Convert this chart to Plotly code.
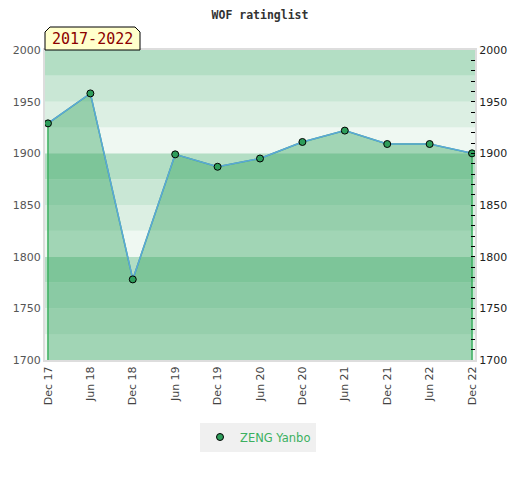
import plotly.graph_objects as go

# ---- data ----
periods = ["Dec 17", "Jun 18", "Dec 18", "Jun 19", "Dec 19", "Jun 20",
           "Dec 20", "Jun 21", "Dec 21", "Jun 22", "Dec 22"]
ratings = [1929, 1958, 1778, 1899, 1887, 1895, 1911, 1922, 1909, 1909, 1900]
player = "ZENG Yanbo"
span_label = "2017-2022"
y_min, y_max = 1700, 2000

xs = list(range(len(periods)))

OFF = 8  # page body margin
W, H = 504, 464
L, T = 45 - OFF, 50 - OFF
R = W - (475 - OFF)
B = H - (360 - OFF)
pw, ph = W - L - R, H - T - B

def px(x):  # window pixel -> paper x
    return (x - OFF - L) / pw

def py(y):  # window pixel -> paper y
    return (H - B - (y - OFF)) / ph

fig = go.Figure()

# fill area under the line
fig.add_trace(go.Scatter(
    x=[xs[0]] + xs + [xs[-1]], y=[y_min] + ratings + [y_min],
    mode="lines", fill="toself", fillcolor="rgba(46,160,90,0.40)",
    line=dict(color="#3cb060", width=1.5), hoverinfo="skip", showlegend=False))

# rating line
fig.add_trace(go.Scatter(
    x=xs, y=ratings, mode="lines", line=dict(color="#5ca6dc", width=1.5),
    showlegend=False, hoverinfo="skip"))

# markers (on right axis, same range)
fig.add_trace(go.Scatter(
    x=xs, y=ratings, mode="markers", name=player, yaxis="y2",
    marker=dict(color="#2e9e5b", size=7, line=dict(color="black", width=1))))

# background bands every 25 points
band_colors = ["#eff8f2", "#dcefe3", "#c9e7d5", "#b3dec4"]
shapes = []
v = y_min
i = 0
while v < y_max:
    shapes.append(dict(type="rect", xref="paper", yref="y", x0=0, x1=1,
                       y0=v, y1=v + 25, fillcolor=band_colors[(i % 4)],
                       line=dict(width=0), layer="below"))
    v += 25
    i += 1

# label box with cut corners
bx0, bx1, by_top, by_bot, cut = 45, 140, 27, 50, 5
path = (f"M {px(bx0)},{py(by_bot)} L {px(bx0)},{py(by_top + cut)} "
        f"L {px(bx0 + cut)},{py(by_top)} L {px(bx1 - cut)},{py(by_top)} "
        f"L {px(bx1)},{py(by_top + cut)} L {px(bx1)},{py(by_bot)} Z")
shapes.append(dict(type="path", xref="paper", yref="paper", path=path,
                   fillcolor="#ffffcc", line=dict(color="black", width=1),
                   layer="above"))

fig.update_layout(
    width=W, height=H,
    margin=dict(l=L, r=R, t=T, b=B, autoexpand=False),
    paper_bgcolor="white", plot_bgcolor="white",
    title=dict(text="<b>WOF ratinglist</b>", x=px(260), xanchor="center",
               xref="paper", y=1 - (15 - OFF) / H, yanchor="middle",
               font=dict(family="DejaVu Sans Mono", size=11.5, color="#333")),
    shapes=shapes,
    annotations=[dict(text=span_label, xref="paper", yref="paper",
                      x=px((bx0 + bx1) / 2), y=py(39), showarrow=False,
                      xanchor="center", yanchor="middle",
                      font=dict(family="DejaVu Sans Mono", size=15, color="#8b0000"))],
    xaxis=dict(range=[-0.07, len(periods) - 1 + 0.07], tickmode="array",
               tickvals=xs, ticktext=periods, tickangle=-90,
               showgrid=False, zeroline=False, showline=True, linecolor="#dddddd",
               linewidth=2, mirror=True, ticks="", automargin=False,
               tickfont=dict(family="DejaVu Sans", size=11, color="#444")),
    yaxis=dict(range=[y_min, y_max], dtick=50, showgrid=False, zeroline=False,
               showline=True, linecolor="#dddddd", linewidth=2, ticks="",
               automargin=False,
               tickfont=dict(family="DejaVu Sans", size=11, color="#555")),
    yaxis2=dict(range=[y_min, y_max], dtick=50, overlaying="y", side="right",
                showgrid=False, zeroline=False, showline=True,
                linecolor="#dddddd", linewidth=2, automargin=False,
                ticks="inside", ticklen=4, tickcolor="black",
                minor=dict(dtick=10, ticks="inside", ticklen=4, tickcolor="black"),
                tickfont=dict(family="DejaVu Sans", size=11, color="#222")),
    legend=dict(orientation="h", x=px(258), xanchor="center", y=py(437),
                yanchor="middle", bgcolor="#f0f0f0", itemwidth=30,
                font=dict(family="DejaVu Sans", size=11.5, color="#3cb060")),
    showlegend=True,
)

fig.write_html("out.html")
